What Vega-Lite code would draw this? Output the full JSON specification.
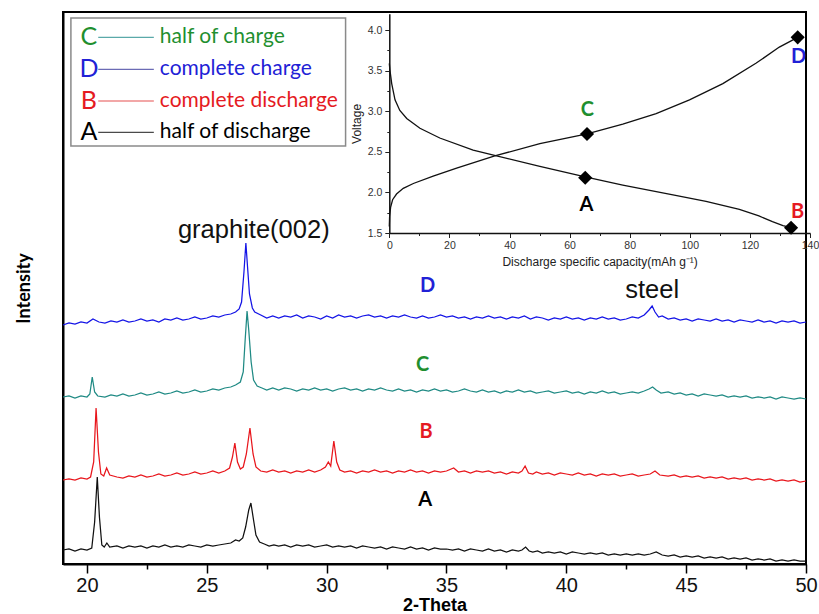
{
"$schema":"https://vega.github.io/schema/vega-lite/v6.json",
"width":743,"height":552,
"autosize":{"type":"none"},
"padding":{"left":63,"top":12,"right":13,"bottom":50},
"background":"white",
"config":{"view":{"stroke":"#000","strokeWidth":2},"font":"Liberation Sans"},
"datasets":{
"xrd":[
{"s":"D","t":19,"i":237},{"s":"D","t":19.25,"i":239},{"s":"D","t":19.5,"i":238},{"s":"D","t":19.75,"i":240},{"s":"D","t":20,"i":239},{"s":"D","t":20.25,"i":243},{"s":"D","t":20.5,"i":240},{"s":"D","t":20.75,"i":239},{"s":"D","t":21,"i":241},{"s":"D","t":21.25,"i":240},{"s":"D","t":21.5,"i":242},{"s":"D","t":21.75,"i":240},{"s":"D","t":22,"i":241},{"s":"D","t":22.25,"i":243},{"s":"D","t":22.5,"i":241},{"s":"D","t":22.75,"i":242},{"s":"D","t":23,"i":240},{"s":"D","t":23.25,"i":243},{"s":"D","t":23.5,"i":242},{"s":"D","t":23.75,"i":244},{"s":"D","t":24,"i":242},{"s":"D","t":24.25,"i":243},{"s":"D","t":24.5,"i":245},{"s":"D","t":24.75,"i":243},{"s":"D","t":25,"i":244},{"s":"D","t":25.25,"i":246},{"s":"D","t":25.5,"i":245},{"s":"D","t":25.75,"i":247},{"s":"D","t":26,"i":248},{"s":"D","t":26.2,"i":250},{"s":"D","t":26.35,"i":253},{"s":"D","t":26.45,"i":260},{"s":"D","t":26.55,"i":290},{"s":"D","t":26.63,"i":319},{"s":"D","t":26.7,"i":295},{"s":"D","t":26.78,"i":268},{"s":"D","t":26.9,"i":254},{"s":"D","t":27,"i":250},{"s":"D","t":27.25,"i":247},{"s":"D","t":27.5,"i":244},{"s":"D","t":27.75,"i":246},{"s":"D","t":28,"i":244},{"s":"D","t":28.25,"i":246},{"s":"D","t":28.5,"i":245},{"s":"D","t":28.75,"i":247},{"s":"D","t":29,"i":244},{"s":"D","t":29.25,"i":246},{"s":"D","t":29.5,"i":245},{"s":"D","t":29.75,"i":243},{"s":"D","t":30,"i":246},{"s":"D","t":30.25,"i":244},{"s":"D","t":30.5,"i":247},{"s":"D","t":30.75,"i":245},{"s":"D","t":31,"i":246},{"s":"D","t":31.25,"i":244},{"s":"D","t":31.5,"i":246},{"s":"D","t":31.75,"i":247},{"s":"D","t":32,"i":245},{"s":"D","t":32.25,"i":246},{"s":"D","t":32.5,"i":244},{"s":"D","t":32.75,"i":246},{"s":"D","t":33,"i":245},{"s":"D","t":33.25,"i":247},{"s":"D","t":33.5,"i":245},{"s":"D","t":33.75,"i":244},{"s":"D","t":34,"i":246},{"s":"D","t":34.25,"i":244},{"s":"D","t":34.5,"i":245},{"s":"D","t":34.75,"i":247},{"s":"D","t":35,"i":245},{"s":"D","t":35.25,"i":246},{"s":"D","t":35.5,"i":244},{"s":"D","t":35.75,"i":245},{"s":"D","t":36,"i":243},{"s":"D","t":36.25,"i":245},{"s":"D","t":36.5,"i":244},{"s":"D","t":36.75,"i":246},{"s":"D","t":37,"i":244},{"s":"D","t":37.25,"i":245},{"s":"D","t":37.5,"i":243},{"s":"D","t":37.75,"i":245},{"s":"D","t":38,"i":244},{"s":"D","t":38.25,"i":246},{"s":"D","t":38.5,"i":243},{"s":"D","t":38.75,"i":245},{"s":"D","t":39,"i":244},{"s":"D","t":39.25,"i":242},{"s":"D","t":39.5,"i":244},{"s":"D","t":39.75,"i":243},{"s":"D","t":40,"i":245},{"s":"D","t":40.25,"i":243},{"s":"D","t":40.5,"i":244},{"s":"D","t":40.75,"i":242},{"s":"D","t":41,"i":244},{"s":"D","t":41.25,"i":243},{"s":"D","t":41.5,"i":245},{"s":"D","t":41.75,"i":243},{"s":"D","t":42,"i":244},{"s":"D","t":42.25,"i":242},{"s":"D","t":42.5,"i":243},{"s":"D","t":42.75,"i":245},{"s":"D","t":43,"i":244},{"s":"D","t":43.25,"i":247},{"s":"D","t":43.45,"i":252},{"s":"D","t":43.58,"i":256},{"s":"D","t":43.7,"i":250},{"s":"D","t":43.85,"i":245},{"s":"D","t":44,"i":246},{"s":"D","t":44.25,"i":243},{"s":"D","t":44.5,"i":244},{"s":"D","t":44.75,"i":242},{"s":"D","t":45,"i":243},{"s":"D","t":45.25,"i":241},{"s":"D","t":45.5,"i":243},{"s":"D","t":45.75,"i":242},{"s":"D","t":46,"i":241},{"s":"D","t":46.25,"i":243},{"s":"D","t":46.5,"i":241},{"s":"D","t":46.75,"i":242},{"s":"D","t":47,"i":240},{"s":"D","t":47.25,"i":242},{"s":"D","t":47.5,"i":241},{"s":"D","t":47.75,"i":240},{"s":"D","t":48,"i":242},{"s":"D","t":48.25,"i":240},{"s":"D","t":48.5,"i":241},{"s":"D","t":48.75,"i":239},{"s":"D","t":49,"i":241},{"s":"D","t":49.25,"i":240},{"s":"D","t":49.5,"i":241},{"s":"D","t":49.75,"i":239},{"s":"D","t":50,"i":240},
{"s":"C","t":19,"i":165},{"s":"C","t":19.25,"i":166},{"s":"C","t":19.5,"i":164},{"s":"C","t":19.75,"i":166},{"s":"C","t":20,"i":165},{"s":"C","t":20.12,"i":168},{"s":"C","t":20.22,"i":185},{"s":"C","t":20.32,"i":170},{"s":"C","t":20.45,"i":166},{"s":"C","t":20.75,"i":165},{"s":"C","t":21,"i":167},{"s":"C","t":21.25,"i":166},{"s":"C","t":21.5,"i":168},{"s":"C","t":21.75,"i":166},{"s":"C","t":22,"i":167},{"s":"C","t":22.25,"i":169},{"s":"C","t":22.5,"i":167},{"s":"C","t":22.75,"i":168},{"s":"C","t":23,"i":170},{"s":"C","t":23.25,"i":168},{"s":"C","t":23.5,"i":169},{"s":"C","t":23.75,"i":171},{"s":"C","t":24,"i":169},{"s":"C","t":24.25,"i":170},{"s":"C","t":24.5,"i":172},{"s":"C","t":24.75,"i":170},{"s":"C","t":25,"i":171},{"s":"C","t":25.25,"i":173},{"s":"C","t":25.5,"i":172},{"s":"C","t":25.75,"i":174},{"s":"C","t":26,"i":175},{"s":"C","t":26.2,"i":177},{"s":"C","t":26.4,"i":180},{"s":"C","t":26.52,"i":190},{"s":"C","t":26.6,"i":222},{"s":"C","t":26.68,"i":251},{"s":"C","t":26.75,"i":232},{"s":"C","t":26.85,"i":200},{"s":"C","t":26.95,"i":182},{"s":"C","t":27.1,"i":176},{"s":"C","t":27.3,"i":174},{"s":"C","t":27.5,"i":172},{"s":"C","t":27.75,"i":174},{"s":"C","t":28,"i":172},{"s":"C","t":28.25,"i":174},{"s":"C","t":28.5,"i":173},{"s":"C","t":28.75,"i":171},{"s":"C","t":29,"i":173},{"s":"C","t":29.25,"i":172},{"s":"C","t":29.5,"i":174},{"s":"C","t":29.75,"i":172},{"s":"C","t":30,"i":173},{"s":"C","t":30.25,"i":171},{"s":"C","t":30.5,"i":173},{"s":"C","t":30.75,"i":174},{"s":"C","t":31,"i":172},{"s":"C","t":31.25,"i":173},{"s":"C","t":31.5,"i":171},{"s":"C","t":31.75,"i":173},{"s":"C","t":32,"i":172},{"s":"C","t":32.25,"i":174},{"s":"C","t":32.5,"i":172},{"s":"C","t":32.75,"i":171},{"s":"C","t":33,"i":173},{"s":"C","t":33.25,"i":171},{"s":"C","t":33.5,"i":172},{"s":"C","t":33.75,"i":170},{"s":"C","t":34,"i":172},{"s":"C","t":34.25,"i":171},{"s":"C","t":34.5,"i":173},{"s":"C","t":34.75,"i":171},{"s":"C","t":35,"i":172},{"s":"C","t":35.25,"i":170},{"s":"C","t":35.5,"i":171},{"s":"C","t":35.75,"i":173},{"s":"C","t":36,"i":171},{"s":"C","t":36.25,"i":170},{"s":"C","t":36.5,"i":172},{"s":"C","t":36.75,"i":170},{"s":"C","t":37,"i":171},{"s":"C","t":37.25,"i":169},{"s":"C","t":37.5,"i":171},{"s":"C","t":37.75,"i":170},{"s":"C","t":38,"i":172},{"s":"C","t":38.25,"i":170},{"s":"C","t":38.5,"i":171},{"s":"C","t":38.75,"i":169},{"s":"C","t":39,"i":170},{"s":"C","t":39.25,"i":171},{"s":"C","t":39.5,"i":169},{"s":"C","t":39.75,"i":170},{"s":"C","t":40,"i":171},{"s":"C","t":40.25,"i":169},{"s":"C","t":40.5,"i":170},{"s":"C","t":40.75,"i":168},{"s":"C","t":41,"i":170},{"s":"C","t":41.25,"i":169},{"s":"C","t":41.5,"i":171},{"s":"C","t":41.75,"i":169},{"s":"C","t":42,"i":170},{"s":"C","t":42.25,"i":168},{"s":"C","t":42.5,"i":169},{"s":"C","t":42.75,"i":170},{"s":"C","t":43,"i":169},{"s":"C","t":43.25,"i":171},{"s":"C","t":43.45,"i":173},{"s":"C","t":43.6,"i":175},{"s":"C","t":43.75,"i":172},{"s":"C","t":43.95,"i":169},{"s":"C","t":44.25,"i":170},{"s":"C","t":44.5,"i":168},{"s":"C","t":44.75,"i":169},{"s":"C","t":45,"i":167},{"s":"C","t":45.25,"i":168},{"s":"C","t":45.5,"i":166},{"s":"C","t":45.75,"i":168},{"s":"C","t":46,"i":167},{"s":"C","t":46.25,"i":166},{"s":"C","t":46.5,"i":167},{"s":"C","t":46.75,"i":165},{"s":"C","t":47,"i":166},{"s":"C","t":47.25,"i":165},{"s":"C","t":47.5,"i":166},{"s":"C","t":47.75,"i":164},{"s":"C","t":48,"i":165},{"s":"C","t":48.25,"i":164},{"s":"C","t":48.5,"i":165},{"s":"C","t":48.75,"i":163},{"s":"C","t":49,"i":165},{"s":"C","t":49.25,"i":164},{"s":"C","t":49.5,"i":163},{"s":"C","t":49.75,"i":164},{"s":"C","t":50,"i":163},
{"s":"B","t":19,"i":82},{"s":"B","t":19.25,"i":83},{"s":"B","t":19.5,"i":82},{"s":"B","t":19.75,"i":84},{"s":"B","t":20,"i":83},{"s":"B","t":20.15,"i":85},{"s":"B","t":20.28,"i":100},{"s":"B","t":20.38,"i":154},{"s":"B","t":20.48,"i":110},{"s":"B","t":20.58,"i":88},{"s":"B","t":20.7,"i":86},{"s":"B","t":20.82,"i":94},{"s":"B","t":20.95,"i":87},{"s":"B","t":21.25,"i":85},{"s":"B","t":21.5,"i":84},{"s":"B","t":21.75,"i":86},{"s":"B","t":22,"i":85},{"s":"B","t":22.25,"i":87},{"s":"B","t":22.5,"i":85},{"s":"B","t":22.75,"i":86},{"s":"B","t":23,"i":88},{"s":"B","t":23.25,"i":86},{"s":"B","t":23.5,"i":87},{"s":"B","t":23.75,"i":89},{"s":"B","t":24,"i":87},{"s":"B","t":24.25,"i":88},{"s":"B","t":24.5,"i":90},{"s":"B","t":24.75,"i":88},{"s":"B","t":25,"i":89},{"s":"B","t":25.25,"i":91},{"s":"B","t":25.5,"i":89},{"s":"B","t":25.75,"i":91},{"s":"B","t":25.95,"i":94},{"s":"B","t":26.07,"i":105},{"s":"B","t":26.17,"i":119},{"s":"B","t":26.28,"i":100},{"s":"B","t":26.4,"i":93},{"s":"B","t":26.52,"i":95},{"s":"B","t":26.65,"i":108},{"s":"B","t":26.8,"i":134},{"s":"B","t":26.93,"i":108},{"s":"B","t":27.05,"i":95},{"s":"B","t":27.25,"i":91},{"s":"B","t":27.5,"i":90},{"s":"B","t":27.75,"i":92},{"s":"B","t":28,"i":90},{"s":"B","t":28.25,"i":91},{"s":"B","t":28.5,"i":89},{"s":"B","t":28.75,"i":91},{"s":"B","t":29,"i":90},{"s":"B","t":29.25,"i":92},{"s":"B","t":29.5,"i":90},{"s":"B","t":29.75,"i":92},{"s":"B","t":29.95,"i":95},{"s":"B","t":30.07,"i":100},{"s":"B","t":30.17,"i":96},{"s":"B","t":30.3,"i":121},{"s":"B","t":30.42,"i":100},{"s":"B","t":30.55,"i":92},{"s":"B","t":30.75,"i":90},{"s":"B","t":31,"i":91},{"s":"B","t":31.25,"i":89},{"s":"B","t":31.5,"i":91},{"s":"B","t":31.75,"i":90},{"s":"B","t":32,"i":92},{"s":"B","t":32.25,"i":90},{"s":"B","t":32.5,"i":91},{"s":"B","t":32.75,"i":89},{"s":"B","t":33,"i":91},{"s":"B","t":33.25,"i":90},{"s":"B","t":33.5,"i":92},{"s":"B","t":33.75,"i":90},{"s":"B","t":34,"i":91},{"s":"B","t":34.25,"i":89},{"s":"B","t":34.5,"i":91},{"s":"B","t":34.75,"i":90},{"s":"B","t":35,"i":91},{"s":"B","t":35.3,"i":94},{"s":"B","t":35.5,"i":90},{"s":"B","t":35.75,"i":91},{"s":"B","t":36,"i":89},{"s":"B","t":36.25,"i":91},{"s":"B","t":36.5,"i":90},{"s":"B","t":36.75,"i":91},{"s":"B","t":37,"i":89},{"s":"B","t":37.25,"i":90},{"s":"B","t":37.5,"i":88},{"s":"B","t":37.75,"i":90},{"s":"B","t":38,"i":89},{"s":"B","t":38.15,"i":91},{"s":"B","t":38.28,"i":96},{"s":"B","t":38.42,"i":89},{"s":"B","t":38.6,"i":88},{"s":"B","t":38.75,"i":90},{"s":"B","t":39,"i":88},{"s":"B","t":39.25,"i":89},{"s":"B","t":39.5,"i":87},{"s":"B","t":39.75,"i":89},{"s":"B","t":40,"i":88},{"s":"B","t":40.25,"i":87},{"s":"B","t":40.5,"i":89},{"s":"B","t":40.75,"i":87},{"s":"B","t":41,"i":88},{"s":"B","t":41.25,"i":86},{"s":"B","t":41.5,"i":88},{"s":"B","t":41.75,"i":87},{"s":"B","t":42,"i":88},{"s":"B","t":42.25,"i":86},{"s":"B","t":42.5,"i":87},{"s":"B","t":42.75,"i":88},{"s":"B","t":43,"i":86},{"s":"B","t":43.25,"i":87},{"s":"B","t":43.5,"i":88},{"s":"B","t":43.7,"i":91},{"s":"B","t":43.9,"i":87},{"s":"B","t":44.25,"i":86},{"s":"B","t":44.5,"i":87},{"s":"B","t":44.75,"i":85},{"s":"B","t":45,"i":86},{"s":"B","t":45.25,"i":85},{"s":"B","t":45.5,"i":86},{"s":"B","t":45.75,"i":84},{"s":"B","t":46,"i":85},{"s":"B","t":46.25,"i":84},{"s":"B","t":46.5,"i":85},{"s":"B","t":46.75,"i":83},{"s":"B","t":47,"i":84},{"s":"B","t":47.25,"i":83},{"s":"B","t":47.5,"i":84},{"s":"B","t":47.75,"i":82},{"s":"B","t":48,"i":83},{"s":"B","t":48.25,"i":82},{"s":"B","t":48.5,"i":83},{"s":"B","t":48.75,"i":81},{"s":"B","t":49,"i":82},{"s":"B","t":49.25,"i":81},{"s":"B","t":49.5,"i":82},{"s":"B","t":49.75,"i":80},{"s":"B","t":50,"i":81},
{"s":"A","t":19,"i":12},{"s":"A","t":19.25,"i":13},{"s":"A","t":19.5,"i":11},{"s":"A","t":19.75,"i":13},{"s":"A","t":20,"i":12},{"s":"A","t":20.2,"i":14},{"s":"A","t":20.32,"i":40},{"s":"A","t":20.43,"i":85},{"s":"A","t":20.52,"i":45},{"s":"A","t":20.62,"i":17},{"s":"A","t":20.72,"i":15},{"s":"A","t":20.83,"i":19},{"s":"A","t":20.95,"i":15},{"s":"A","t":21.25,"i":16},{"s":"A","t":21.5,"i":14},{"s":"A","t":21.75,"i":16},{"s":"A","t":22,"i":15},{"s":"A","t":22.25,"i":16},{"s":"A","t":22.5,"i":14},{"s":"A","t":22.75,"i":16},{"s":"A","t":23,"i":15},{"s":"A","t":23.25,"i":17},{"s":"A","t":23.5,"i":15},{"s":"A","t":23.75,"i":16},{"s":"A","t":24,"i":15},{"s":"A","t":24.25,"i":17},{"s":"A","t":24.5,"i":16},{"s":"A","t":24.75,"i":15},{"s":"A","t":25,"i":17},{"s":"A","t":25.25,"i":16},{"s":"A","t":25.5,"i":17},{"s":"A","t":25.75,"i":18},{"s":"A","t":26,"i":19},{"s":"A","t":26.2,"i":22},{"s":"A","t":26.35,"i":21},{"s":"A","t":26.5,"i":24},{"s":"A","t":26.62,"i":35},{"s":"A","t":26.75,"i":52},{"s":"A","t":26.84,"i":59},{"s":"A","t":26.95,"i":42},{"s":"A","t":27.05,"i":27},{"s":"A","t":27.2,"i":20},{"s":"A","t":27.4,"i":18},{"s":"A","t":27.6,"i":16},{"s":"A","t":27.8,"i":17},{"s":"A","t":28,"i":16},{"s":"A","t":28.25,"i":17},{"s":"A","t":28.5,"i":15},{"s":"A","t":28.75,"i":17},{"s":"A","t":29,"i":16},{"s":"A","t":29.25,"i":17},{"s":"A","t":29.5,"i":15},{"s":"A","t":29.75,"i":16},{"s":"A","t":30,"i":17},{"s":"A","t":30.25,"i":15},{"s":"A","t":30.5,"i":16},{"s":"A","t":30.75,"i":15},{"s":"A","t":31,"i":16},{"s":"A","t":31.25,"i":14},{"s":"A","t":31.5,"i":16},{"s":"A","t":31.75,"i":15},{"s":"A","t":32,"i":14},{"s":"A","t":32.25,"i":15},{"s":"A","t":32.5,"i":13},{"s":"A","t":32.75,"i":15},{"s":"A","t":33,"i":14},{"s":"A","t":33.25,"i":13},{"s":"A","t":33.5,"i":15},{"s":"A","t":33.75,"i":13},{"s":"A","t":34,"i":14},{"s":"A","t":34.25,"i":12},{"s":"A","t":34.5,"i":14},{"s":"A","t":34.75,"i":13},{"s":"A","t":35,"i":13},{"s":"A","t":35.25,"i":12},{"s":"A","t":35.5,"i":13},{"s":"A","t":35.75,"i":11},{"s":"A","t":36,"i":13},{"s":"A","t":36.25,"i":12},{"s":"A","t":36.5,"i":11},{"s":"A","t":36.75,"i":13},{"s":"A","t":37,"i":11},{"s":"A","t":37.25,"i":12},{"s":"A","t":37.5,"i":10},{"s":"A","t":37.75,"i":12},{"s":"A","t":38,"i":11},{"s":"A","t":38.15,"i":12},{"s":"A","t":38.3,"i":15},{"s":"A","t":38.45,"i":11},{"s":"A","t":38.6,"i":10},{"s":"A","t":38.8,"i":11},{"s":"A","t":39,"i":9},{"s":"A","t":39.25,"i":10},{"s":"A","t":39.5,"i":9},{"s":"A","t":39.75,"i":10},{"s":"A","t":40,"i":8},{"s":"A","t":40.25,"i":10},{"s":"A","t":40.5,"i":9},{"s":"A","t":40.75,"i":8},{"s":"A","t":41,"i":9},{"s":"A","t":41.25,"i":8},{"s":"A","t":41.5,"i":9},{"s":"A","t":41.75,"i":7},{"s":"A","t":42,"i":8},{"s":"A","t":42.25,"i":7},{"s":"A","t":42.5,"i":8},{"s":"A","t":42.75,"i":7},{"s":"A","t":43,"i":8},{"s":"A","t":43.25,"i":7},{"s":"A","t":43.5,"i":8},{"s":"A","t":43.75,"i":10},{"s":"A","t":44,"i":7},{"s":"A","t":44.25,"i":6},{"s":"A","t":44.5,"i":7},{"s":"A","t":44.75,"i":5},{"s":"A","t":45,"i":6},{"s":"A","t":45.25,"i":5},{"s":"A","t":45.5,"i":6},{"s":"A","t":45.75,"i":4},{"s":"A","t":46,"i":5},{"s":"A","t":46.25,"i":4},{"s":"A","t":46.5,"i":5},{"s":"A","t":46.75,"i":3},{"s":"A","t":47,"i":4},{"s":"A","t":47.25,"i":3},{"s":"A","t":47.5,"i":4},{"s":"A","t":47.75,"i":2},{"s":"A","t":48,"i":3},{"s":"A","t":48.25,"i":2},{"s":"A","t":48.5,"i":3},{"s":"A","t":48.75,"i":1},{"s":"A","t":49,"i":2},{"s":"A","t":49.25,"i":1},{"s":"A","t":49.5,"i":2},{"s":"A","t":49.75,"i":1},{"s":"A","t":50,"i":1}
],
"gcd":[
{"c":"dis","q":0,"v":3.59},{"c":"dis","q":0.2,"v":3.51},{"c":"dis","q":0.8,"v":3.34},{"c":"dis","q":1.9,"v":3.14},{"c":"dis","q":3.5,"v":3.01},{"c":"dis","q":5.8,"v":2.91},{"c":"dis","q":10.2,"v":2.79},{"c":"dis","q":16.8,"v":2.67},{"c":"dis","q":27.9,"v":2.52},{"c":"dis","q":35.7,"v":2.45},{"c":"dis","q":50.1,"v":2.32},{"c":"dis","q":65.2,"v":2.19},{"c":"dis","q":77.7,"v":2.09},{"c":"dis","q":94.4,"v":1.97},{"c":"dis","q":105.4,"v":1.89},{"c":"dis","q":116.5,"v":1.79},{"c":"dis","q":123,"v":1.71},{"c":"dis","q":127.5,"v":1.64},{"c":"dis","q":131,"v":1.59},{"c":"dis","q":133.7,"v":1.565},
{"c":"chg","q":0,"v":1.58},{"c":"chg","q":0.1,"v":1.7},{"c":"chg","q":0.45,"v":1.82},{"c":"chg","q":1.1,"v":1.91},{"c":"chg","q":2.4,"v":1.98},{"c":"chg","q":4.65,"v":2.05},{"c":"chg","q":8,"v":2.11},{"c":"chg","q":14.6,"v":2.2},{"c":"chg","q":22.4,"v":2.3},{"c":"chg","q":35.1,"v":2.45},{"c":"chg","q":50.1,"v":2.6},{"c":"chg","q":65.8,"v":2.72},{"c":"chg","q":77.7,"v":2.84},{"c":"chg","q":88.8,"v":2.97},{"c":"chg","q":99.9,"v":3.14},{"c":"chg","q":111,"v":3.34},{"c":"chg","q":122,"v":3.59},{"c":"chg","q":129.8,"v":3.79},{"c":"chg","q":135.9,"v":3.91}
]
},
"layer":[
{"data":{"name":"xrd"},"mark":{"type":"line","strokeWidth":1.25},
"encoding":{
"x":{"field":"t","type":"quantitative","scale":{"domain":[19,50],"nice":false,"zero":false},
"axis":{"orient":"bottom","values":[20,25,30,35,40,45,50],"format":"d","tickSize":9,"tickWidth":1.5,"tickColor":"#000","domainColor":"#000","domainWidth":2,"labelFont":"Liberation Sans Narrow, Liberation Sans","labelFontSize":20,"labelColor":"#111","labelPadding":2,"labelFlush":false,"labelOverlap":false,"title":"2-Theta","titleFont":"Liberation Sans Narrow, Liberation Sans","titleFontSize":18,"titleFontWeight":"bold","titleColor":"#000","titlePadding":1,"grid":false}},
"y":{"field":"i","type":"quantitative","scale":{"domain":[-2,550],"nice":false,"zero":false},
"axis":{"orient":"left","title":"Intensity","labels":false,"ticks":false,"domainColor":"#000","domainWidth":2,"titleFont":"Lato","titleFontSize":18,"titleFontWeight":"bold","titleColor":"#000","titlePadding":30,"grid":false}},
"color":{"field":"s","type":"nominal","scale":{"domain":["A","B","C","D"],"range":["#111111","#e8161c","#1f8a84","#1414e6"]},"legend":null}
}},
{"data":{"values":[{"x1":19.33,"x2":30.79,"y1":416,"y2":544}]},"mark":{"type":"rect","fill":"white","stroke":"#8a8a8a","strokeWidth":1.5},
"encoding":{"x":{"field":"x1","type":"quantitative","scale":{"domain":[19,50],"nice":false,"zero":false},"axis":null},"x2":{"field":"x2"},
"y":{"field":"y1","type":"quantitative","scale":{"domain":[-2,550],"nice":false,"zero":false},"axis":null},"y2":{"field":"y2"}}},
{"data":{"values":[{"k":"C","x1":20.47,"x2":22.79,"y":524.7},{"k":"D","x1":20.47,"x2":22.79,"y":492.7},{"k":"B","x1":20.47,"x2":22.79,"y":461},{"k":"A","x1":20.47,"x2":22.79,"y":429.7}]},
"mark":{"type":"rule","strokeWidth":1.2},
"encoding":{
"x":{"field":"x1","type":"quantitative","scale":{"domain":[19,50],"nice":false,"zero":false},
"axis":{"orient":"bottom","values":[22.5,27.5,32.5,37.5,42.5,47.5],"labels":false,"domain":false,"tickSize":5,"tickWidth":1.5,"tickColor":"#000","title":null,"grid":false}},
"x2":{"field":"x2"},
"y":{"field":"y","type":"quantitative","scale":{"domain":[-2,550],"nice":false,"zero":false},"axis":null},
"color":{"field":"k","type":"nominal","scale":{"domain":["A","B","C","D"],"range":["#4a4a4a","#e65050","#5aa9a9","#6b6bb5"]},"legend":null}}},
{"data":{"values":[{"k":"C","x":20.08,"y":524.7},{"k":"D","x":20.08,"y":492.7},{"k":"B","x":20.08,"y":461},{"k":"A","x":20.08,"y":429.7}]},
"mark":{"type":"text","font":"Lato","fontSize":25,"align":"center","baseline":"middle"},
"encoding":{"x":{"field":"x","type":"quantitative","scale":{"domain":[19,50],"nice":false,"zero":false},"axis":null},"y":{"field":"y","type":"quantitative","scale":{"domain":[-2,550],"nice":false,"zero":false},"axis":null},"text":{"field":"k"},
"color":{"field":"k","type":"nominal","scale":{"domain":["A","B","C","D"],"range":["#000000","#e51a22","#1f8f2f","#2121d6"]},"legend":null}}},
{"data":{"values":[{"k":"C","label":"half of charge","x":23.04,"y":524.7},{"k":"D","label":"complete charge","x":23.04,"y":492.7},{"k":"B","label":"complete discharge","x":23.04,"y":461},{"k":"A","label":"half of discharge","x":23.04,"y":429.7}]},
"mark":{"type":"text","font":"Lato","fontSize":21,"align":"left","baseline":"middle"},
"encoding":{"x":{"field":"x","type":"quantitative","scale":{"domain":[19,50],"nice":false,"zero":false},"axis":null},"y":{"field":"y","type":"quantitative","scale":{"domain":[-2,550],"nice":false,"zero":false},"axis":null},"text":{"field":"label"},
"color":{"field":"k","type":"nominal","scale":{"domain":["A","B","C","D"],"range":["#000000","#e51a22","#1f8f2f","#2121d6"]},"legend":null}}},
{"data":{"values":[{"k":"D","x":34.21,"y":276},{"k":"C","x":34.0,"y":197},{"k":"B","x":34.15,"y":130},{"k":"A","x":34.11,"y":62}]},
"mark":{"type":"text","font":"Lato","fontSize":20,"fontWeight":"bold","align":"center","baseline":"middle"},
"encoding":{"x":{"field":"x","type":"quantitative","scale":{"domain":[19,50],"nice":false,"zero":false},"axis":null},"y":{"field":"y","type":"quantitative","scale":{"domain":[-2,550],"nice":false,"zero":false},"axis":null},"text":{"field":"k"},
"color":{"field":"k","type":"nominal","scale":{"domain":["A","B","C","D"],"range":["#000000","#e51a22","#1f8f2f","#2121d6"]},"legend":null}}},
{"data":{"values":[{"txt":"graphite(002)","x":26.96,"y":324},{"txt":"steel","x":43.58,"y":264}]},
"mark":{"type":"text","font":"Liberation Sans","fontSize":25.5,"align":"center","baseline":"alphabetic","color":"#111"},
"encoding":{"x":{"field":"x","type":"quantitative","scale":{"domain":[19,50],"nice":false,"zero":false},"axis":null},"y":{"field":"y","type":"quantitative","scale":{"domain":[-2,550],"nice":false,"zero":false},"axis":null},"text":{"field":"txt"}}},
{"data":{"name":"gcd"},"mark":{"type":"line","color":"#111","strokeWidth":1.3},
"encoding":{
"x":{"field":"q","type":"quantitative","scale":{"domain":[0,140],"range":[326.3,747],"nice":false,"zero":false},
"axis":{"orient":"bottom","offset":-331,"values":[0,20,40,60,80,100,120,140],"format":"d","tickSize":4.5,"tickColor":"#222","domainColor":"#111","domainWidth":1.5,"labelFont":"Liberation Sans","labelFontSize":10.5,"labelColor":"#333","labelPadding":3,"labelFlush":false,"labelOverlap":false,"title":"Discharge specific capacity(mAh g⁻¹)","titleFont":"Liberation Sans","titleFontSize":12,"titleFontWeight":"normal","titleColor":"#222","titlePadding":5,"grid":false}},
"y":{"field":"v","type":"quantitative","scale":{"domain":[1.5,4.2],"range":[221,1.8],"nice":false,"zero":false},
"axis":{"orient":"left","offset":-326.3,"values":[1.5,2,2.5,3,3.5,4],"format":".1f","tickSize":4.5,"tickColor":"#222","domainColor":"#111","domainWidth":1.5,"labelFont":"Liberation Sans","labelFontSize":10.5,"labelColor":"#333","labelPadding":3,"labelFlush":false,"labelOverlap":false,"title":"Voltage","titleFont":"Liberation Sans","titleFontSize":12,"titleFontWeight":"normal","titleColor":"#222","titlePadding":4,"grid":false}},
"detail":{"field":"c","type":"nominal"}
}},
{"data":{"values":[{"p":"A","q":65.2,"v":2.18},{"p":"C","q":65.8,"v":2.72},{"p":"D","q":135.9,"v":3.91},{"p":"B","q":133.7,"v":1.565}]},
"mark":{"type":"point","shape":"diamond","filled":true,"color":"#000","opacity":1,"size":200},
"encoding":{
"x":{"field":"q","type":"quantitative","scale":{"domain":[0,140],"range":[326.3,747],"nice":false,"zero":false},
"axis":{"orient":"bottom","offset":-331,"values":[10,30,50,70,90,110,130],"labels":false,"domain":false,"tickSize":2.5,"tickColor":"#222","title":null,"grid":false}},
"y":{"field":"v","type":"quantitative","scale":{"domain":[1.5,4.2],"range":[221,1.8],"nice":false,"zero":false},
"axis":{"orient":"left","offset":-326.3,"values":[1.75,2.25,2.75,3.25,3.75],"labels":false,"domain":false,"tickSize":2.5,"tickColor":"#222","title":null,"grid":false}}}},
{"data":{"values":[{"p":"C","q":65.9,"v":3.02},{"p":"A","q":65.6,"v":1.845},{"p":"D","q":136.2,"v":3.67},{"p":"B","q":135.9,"v":1.76}]},
"mark":{"type":"text","font":"Lato","fontSize":20,"fontWeight":"bold","align":"center","baseline":"middle"},
"encoding":{"x":{"field":"q","type":"quantitative","scale":{"domain":[0,140],"range":[326.3,747],"nice":false,"zero":false},"axis":null},"y":{"field":"v","type":"quantitative","scale":{"domain":[1.5,4.2],"range":[221,1.8],"nice":false,"zero":false},"axis":null},"text":{"field":"p"},
"color":{"field":"p","type":"nominal","scale":{"domain":["A","B","C","D"],"range":["#000000","#e51a22","#1f8f2f","#2121d6"]},"legend":null}}}
],
"resolve":{"scale":{"x":"independent","y":"independent","color":"independent"}}
}
